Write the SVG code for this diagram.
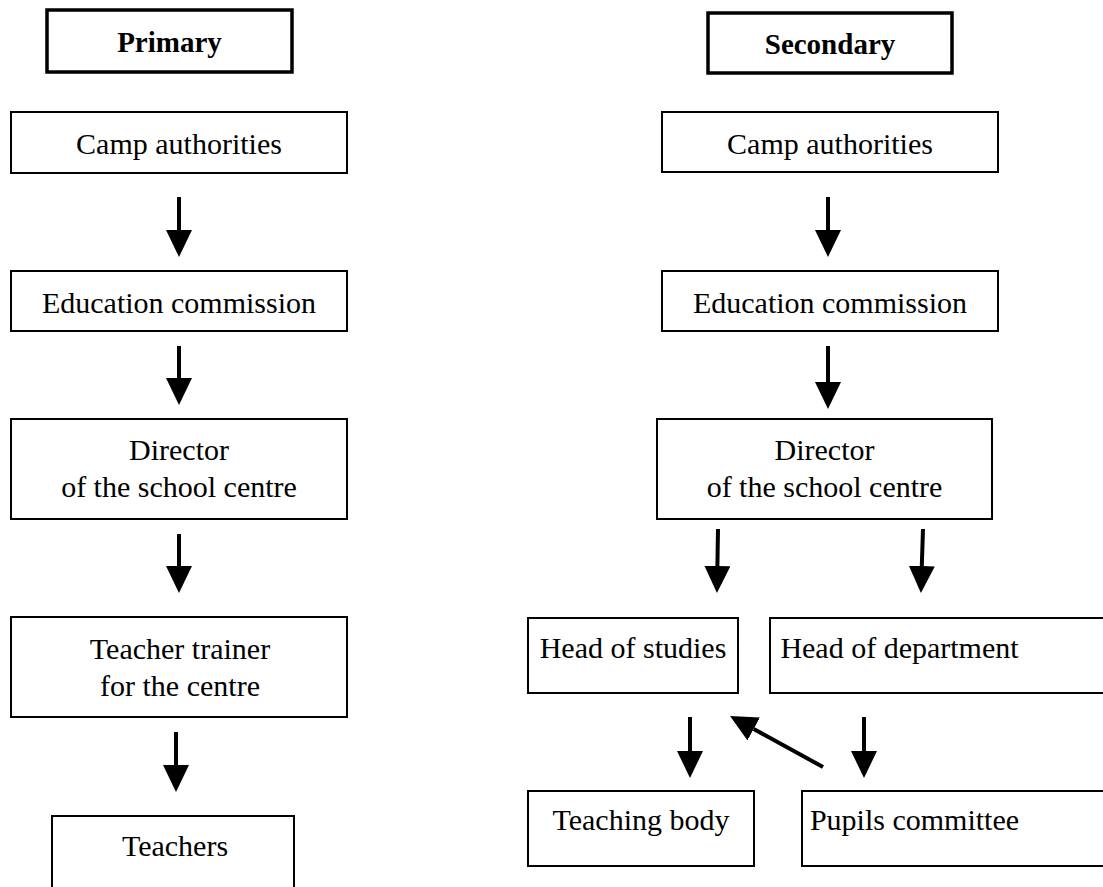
<svg xmlns="http://www.w3.org/2000/svg" width="1103" height="887" viewBox="0 0 1103 887">
<defs>
<style>
.box{fill:#fff;stroke:#000;stroke-width:2}
.hdr{fill:#fff;stroke:#000;stroke-width:3.5}
.t{font-family:"Liberation Serif","Times New Roman",serif;font-size:30px;fill:#000;text-anchor:middle}
.b{font-weight:bold;font-size:29px}
.arr{stroke:#000;stroke-width:4;fill:none;marker-end:url(#ah)}
</style>
<marker id="ah" markerUnits="userSpaceOnUse" markerWidth="28" markerHeight="26" refX="0" refY="13" orient="auto" viewBox="0 0 28 26">
<path d="M0,0 L27,13 L0,26 Z" fill="#000"/>
</marker>
</defs>
<rect width="1103" height="887" fill="#fff"/>
<g id="primary"><rect class="hdr" x="47" y="10" width="245" height="62"/><text class="t b" x="169.5" y="52">Primary</text></g>
<g id="secondary"><rect class="hdr" x="708" y="13" width="244" height="60"/><text class="t b" x="830" y="54">Secondary</text></g>
<g id="p-camp"><rect class="box" x="11" y="112" width="336" height="61"/><text class="t" x="179" y="154">Camp authorities</text></g>
<g id="p-edu"><rect class="box" x="11" y="271" width="336" height="60"/><text class="t" x="179" y="313">Education commission</text></g>
<g id="p-dir"><rect class="box" x="11" y="419" width="336" height="100"/><text class="t" x="179" y="460">Director</text><text class="t" x="179" y="497">of the school centre</text></g>
<g id="p-trainer"><rect class="box" x="11" y="617" width="336" height="100"/><text class="t" x="180" y="659">Teacher trainer</text><text class="t" x="180" y="696">for the centre</text></g>
<g id="p-teachers"><rect class="box" x="52" y="816" width="242" height="100"/><text class="t" x="175" y="856">Teachers</text></g>
<g id="s-camp"><rect class="box" x="662" y="112" width="336" height="60"/><text class="t" x="830" y="154">Camp authorities</text></g>
<g id="s-edu"><rect class="box" x="662" y="271" width="336" height="60"/><text class="t" x="830" y="313">Education commission</text></g>
<g id="s-dir"><rect class="box" x="657" y="419" width="335" height="100"/><text class="t" x="824.5" y="460">Director</text><text class="t" x="824.5" y="497">of the school centre</text></g>
<g id="s-studies"><rect class="box" x="528" y="618" width="210" height="75"/><text class="t" x="633" y="658">Head of studies</text></g>
<g id="s-dept"><rect class="box" x="770" y="618" width="360" height="75"/><text class="t" x="899.5" y="658">Head of department</text></g>
<g id="s-body"><rect class="box" x="528" y="791" width="226" height="75"/><text class="t" x="641" y="830">Teaching body</text></g>
<g id="s-pupils"><rect class="box" x="802" y="791" width="330" height="75"/><text class="t" x="914.5" y="830">Pupils committee</text></g>
<g id="connectors">
<path class="arr" d="M179,197 V230"/>
<path class="arr" d="M179,346 V378"/>
<path class="arr" d="M179,534 V566"/>
<path class="arr" d="M176,732 V765"/>
<path class="arr" d="M828,197 V230"/>
<path class="arr" d="M828,346 V382"/>
<path class="arr" d="M718,529 L717.4,566"/>
<path class="arr" d="M923,529 L921.8,566"/>
<path class="arr" d="M690,717 V751"/>
<path class="arr" d="M864,717 V751"/>
<path class="arr" d="M823,767 L753.7,729"/>
</g>
</svg>
